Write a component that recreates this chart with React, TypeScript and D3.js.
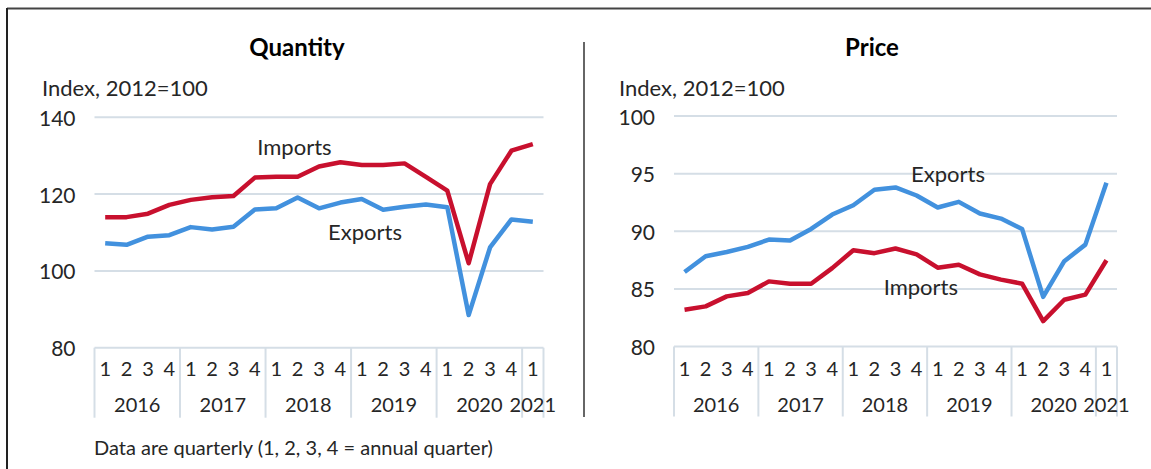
import React from "react";
import * as d3 from "d3";

const quarters = ["1","2","3","4","1","2","3","4","1","2","3","4","1","2","3","4","1","2","3","4","1"];
const years = ["2016","2017","2018","2019","2020","2021"];
const yearSpans = [4,4,4,4,4,1];

const qtyImports = [114.0,114.0,114.9,117.2,118.5,119.2,119.5,124.3,124.5,124.5,127.2,128.3,127.6,127.6,128.0,124.5,120.9,102.0,122.6,131.3,133.0];
const qtyExports = [107.2,106.8,108.9,109.3,111.4,110.8,111.5,116.0,116.3,119.1,116.3,117.8,118.7,115.9,116.7,117.3,116.6,88.5,106.1,113.4,112.8];
const priceExports = [86.46,87.83,88.2,88.64,89.28,89.2,90.2,91.45,92.26,93.6,93.8,93.1,92.06,92.55,91.54,91.1,90.2,84.3,87.4,88.84,94.2];
const priceImports = [83.19,83.48,84.35,84.64,85.65,85.45,85.45,86.8,88.35,88.1,88.5,88.0,86.84,87.1,86.26,85.8,85.45,82.2,84.06,84.5,87.48];

const qtyTicks = [80,100,120,140];
const priceTicks = [80,85,90,95,100];

const RED = "#C8102E";
const BLUE = "#4291DE";
const GRID = "#D5DEE6";
const TEXT = "#262626";
const FONT = "Lato, 'Open Sans', sans-serif";

type Series = { name: string; values: number[]; color: string; labelAt: [number, number] };
type PanelProps = {
  title: string; titleX: number; x0: number; x1: number; yTop: number; yBot: number;
  domain: [number, number]; ticks: number[]; series: Series[]; unitX: number;
};

function Panel({ title, titleX, x0, x1, yTop, yBot, domain, ticks, series, unitX }: PanelProps) {
  const idx = quarters.map((_, i) => i);
  const x = d3.scaleBand<number>().domain(idx).range([x0, x1]).padding(0);
  const bw = x.bandwidth();
  const cx = (i: number) => x0 + (i + 0.5) * bw;
  const y = d3.scaleLinear().domain(domain).range([yBot, yTop]);
  const line = d3.line<number>().x((_, i) => cx(i)).y((d) => y(d));
  const bottom = yBot + 70;
  let acc = 0;
  const bounds = [0, ...yearSpans.map((s) => (acc += s))];
  return (
    <g>
      <text x={titleX} y={46} textAnchor="middle" dominantBaseline="central" fontWeight="bold" fontSize={24} fill="#000" fontFamily={FONT}>{title}</text>
      <text x={unitX} y={87} dominantBaseline="central" fontSize={22} fill={TEXT} fontFamily={FONT}>Index, 2012=100</text>
      {ticks.map((t) => (
        <g key={t}>
          <line x1={x0} x2={x1} y1={y(t)} y2={y(t)} stroke={GRID} strokeWidth={2} />
          <text x={x0 - 19} y={y(t)} textAnchor="end" dominantBaseline="central" fontSize={21} fill={TEXT} fontFamily={FONT}>{t}</text>
        </g>
      ))}
      {bounds.map((b, i) => (
        <line key={i} x1={x0 + b * bw} x2={x0 + b * bw} y1={yBot} y2={bottom} stroke={GRID} strokeWidth={2} />
      ))}
      {quarters.map((q, i) => (
        <text key={i} x={cx(i)} y={368} textAnchor="middle" dominantBaseline="central" fontSize={20} fill={TEXT} fontFamily={FONT}>{q}</text>
      ))}
      {years.map((yr, i) => (
        <text key={yr} x={x0 + ((bounds[i] + bounds[i + 1]) / 2) * bw} y={404} textAnchor="middle" dominantBaseline="central" fontSize={20} fill={TEXT} fontFamily={FONT}>{yr}</text>
      ))}
      {series.map((s) => (
        <path key={s.name} d={line(s.values) || ""} fill="none" stroke={s.color} strokeWidth={4.5} strokeLinejoin="round" />
      ))}
      {series.map((s) => (
        <text key={s.name + "l"} x={cx(s.labelAt[0])} y={y(s.labelAt[1])} textAnchor="middle" dominantBaseline="central" fontSize={22} fill={TEXT} fontFamily={FONT}>{s.name}</text>
      ))}
    </g>
  );
}

export default function App() {
  return (
    <svg width={1151} height={469} style={{ position: "absolute", left: 0, top: 0, background: "#fff" }}>
      <rect x={0} y={0} width={1151} height={469} fill="#fff" />
      <line x1={7} x2={1151} y1={8.5} y2={8.5} stroke="#444" strokeWidth={2} />
      <line x1={7} x2={7} y1={8} y2={469} stroke="#222" strokeWidth={2} />
      <line x1={584} x2={584} y1={42} y2={417} stroke="#333" strokeWidth={1.5} />
      <Panel
        title="Quantity" titleX={297} x0={94.5} x1={543.5} yTop={117.3} yBot={347.7}
        domain={[80, 140]} ticks={qtyTicks} unitX={42}
        series={[
          { name: "Imports", values: qtyImports, color: RED, labelAt: [8.85, 132.3] },
          { name: "Exports", values: qtyExports, color: BLUE, labelAt: [12.15, 110.2] },
        ]}
      />
      <Panel
        title="Price" titleX={872} x0={674} x1={1117} yTop={116} yBot={346.5}
        domain={[80, 100]} ticks={priceTicks} unitX={619}
        series={[
          { name: "Imports", values: priceImports, color: RED, labelAt: [11.2, 85.2] },
          { name: "Exports", values: priceExports, color: BLUE, labelAt: [12.49, 95.0] },
        ]}
      />
      <text x={94} y={447} dominantBaseline="central" fontSize={20} fill={TEXT} fontFamily={FONT}>Data are quarterly (1, 2, 3, 4 = annual quarter)</text>
    </svg>
  );
}
